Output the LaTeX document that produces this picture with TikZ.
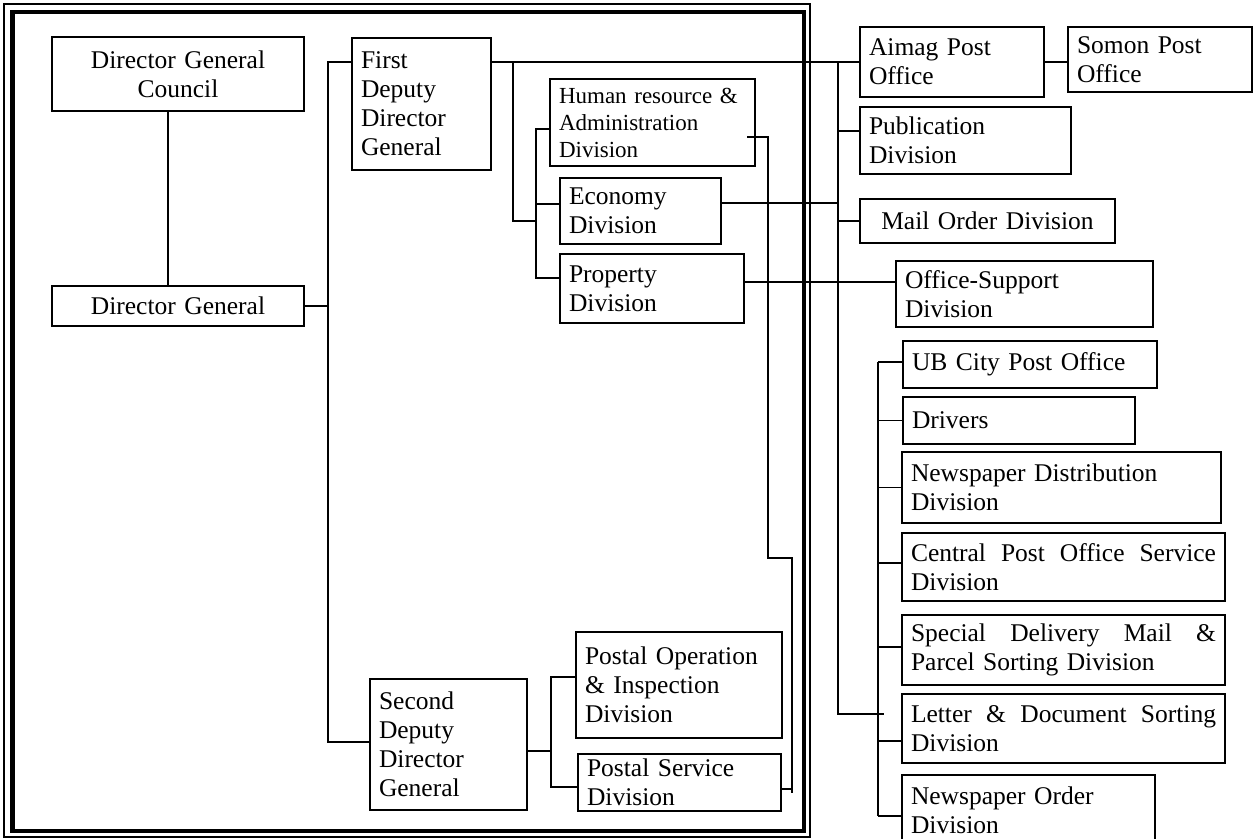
\documentclass[tikz,border=0pt]{standalone}
\usepackage{fontspec}
\setmainfont{Liberation Serif}
\newcommand\fsn{\fontsize{12.75}{14.5}\selectfont}
\newcommand\fss{\fontsize{11.5}{13.5}\selectfont}
\tikzset{
  box/.style={draw, line width=0.9pt, inner xsep=4.5pt, inner ysep=0pt, outer sep=0pt,
    font=\fsn, anchor=north west, align=left},
  conn/.style={line width=0.9pt},
  thinframe/.style={line width=0.7pt},
  thickframe/.style={line width=2.3pt}
}
\newcommand\bx[7]{%
  \pgfmathsetmacro\bxw{(#4-#2)*0.5}%
  \pgfmathsetmacro\bxh{(#5-#3)*0.5}%
  \pgfmathsetmacro\bxt{(#4-#2)*0.5-9}%
  \node[box, minimum width=\bxw pt, minimum height=\bxh pt, text width=\bxt pt, #6] (#1) at (#2,#3) {#7};}
\begin{document}
\begin{tikzpicture}[x=0.5pt,y=-0.5pt]
\useasboundingbox (0,0) rectangle (1255,839);
% frame
\draw[thinframe] (4,4) rectangle (810,837);
\draw[thickframe] (12.5,12) rectangle (804,831);

% left part
\bx{dgc}{52}{37}{304}{111}{align=center}{Director General\\Council}
\bx{dg}{52}{286}{304}{326}{align=center}{Director General}
\bx{fddg}{352}{38}{491}{170}{}{First\\Deputy\\Director\\General}
\bx{hr}{550}{79}{755}{166}{font=\fss, inner xsep=4pt}{Human resource \&\\Administration\\Division}
\bx{eco}{560}{178}{721}{244}{}{Economy\\Division}
\bx{prop}{560}{254}{744}{323}{}{Property\\Division}
\bx{sddg}{370}{679}{527}{810}{}{Second\\Deputy\\Director\\General}
\bx{poi}{576}{632}{782}{738}{}{Postal Operation\\\& Inspection\\Division}
\bx{psd}{578}{754}{781}{811}{}{Postal Service\\Division}

% right part
\bx{aimag}{860}{27}{1044}{97}{}{Aimag Post\\Office}
\bx{somon}{1068}{27}{1252}{92}{}{Somon Post\\Office}
\bx{pub}{860}{107}{1071}{174}{}{Publication\\Division}
\bx{mo}{860}{199}{1115}{243}{align=center}{Mail Order Division}
\bx{os}{896}{261}{1153}{327}{}{Office-Support\\Division}
\bx{ub}{903}{341}{1157}{388}{}{UB City Post Office}
\bx{drv}{903}{397}{1135}{444}{}{Drivers}
\bx{nd}{902}{452}{1221}{523}{}{Newspaper Distribution\\Division}
\bx{cpo}{902}{533}{1225}{601}{}{Central\hfill Post\hfill Office\hfill Service\\Division}
\bx{sdm}{902}{615}{1225}{685}{}{Special\hfill Delivery\hfill Mail\hfill \&\\Parcel Sorting Division}
\bx{lds}{902}{694}{1225}{763}{}{Letter\hfill \&\hfill Document\hfill Sorting\\Division}
\begin{scope}
\clip (0,0) rectangle (1255,839);
\bx{no}{902}{775}{1155}{845}{}{Newspaper Order\\Division}
\end{scope}

% coordinates
\coordinate (c1) at (168,0);
\coordinate (A) at (328,62);
\coordinate (B) at (328,742);
\coordinate (C) at (513,62);
\coordinate (D) at (513,221);
\coordinate (E) at (536,221);
\coordinate (F) at (536,129);
\coordinate (G) at (536,278);
\coordinate (H) at (536,204);
\coordinate (I0) at (747,137);
\coordinate (I) at (768,137);
\coordinate (J) at (768,558);
\coordinate (K) at (792,558);
\coordinate (L) at (792,793);
\coordinate (M) at (792,789);
\coordinate (N) at (838,203);
\coordinate (P) at (0,282);
\coordinate (Q1) at (838,62);
\coordinate (Q2) at (838,714);
\coordinate (Q3) at (884,714);
\coordinate (R1) at (838,131);
\coordinate (T1) at (878,362);
\coordinate (T2) at (878,816);
\coordinate (S1) at (551,677);
\coordinate (S2) at (551,787);
\coordinate (S3) at (551,751);

% connectors left
\draw[conn] (dgc.south -| c1) -- (dg.north -| c1);
\draw[conn] (dg.east) -- (dg.east -| A);
\draw[conn] (fddg.west |- A) -- (A) -- (B) -- (sddg.west |- B);
\draw[conn] (fddg.east |- A) -- (aimag.west |- A);
\draw[conn] (aimag.east) -- (aimag.east -| somon.west);
\draw[conn] (C) -- (D) -- (E);
\draw[conn] (hr.west |- F) -- (F) -- (G) -- (prop.west |- G);
\draw[conn] (H) -- (eco.west |- H);
\draw[conn] (I0) -- (I) -- (J) -- (K) -- (L);
\draw[conn] (psd.east |- M) -- (M);
\draw[conn] (eco.east |- N) -- (N);
\draw[conn] (prop.east |- P) -- (os.west |- P);
\draw[conn] (sddg.east |- S3) -- (S3);
\draw[conn] (poi.west |- S1) -- (S1) -- (S2) -- (psd.west |- S2);

% right bus
\draw[conn] (Q1) -- (Q2) -- (Q3);
\draw[conn] (R1) -- (pub.west |- R1);
\draw[conn] (mo.west) -- (mo.west -| Q1);
\draw[conn] (T1) -- (T2);
\draw[conn] (T1) -- (ub.west |- T1);
\draw[conn] (drv.west) -- (drv.west -| T1);
\draw[conn] (nd.west) -- (nd.west -| T1);
\coordinate (U1) at (878,563);
\coordinate (U2) at (878,647);
\coordinate (U3) at (878,741);
\draw[conn] (U1) -- (cpo.west |- U1);
\draw[conn] (U2) -- (sdm.west |- U2);
\draw[conn] (U3) -- (lds.west |- U3);
\draw[conn] (T2) -- (no.west |- T2);
\end{tikzpicture}
\end{document}
